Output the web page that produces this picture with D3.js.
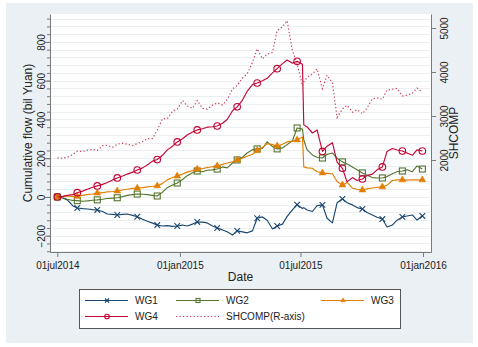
<!DOCTYPE html>
<html>
<head>
<meta charset="utf-8">
<script src="https://cdn.jsdelivr.net/npm/d3@7"></script>
<style>
  body { margin: 0; background: #fff; }
  svg { display: block; font-family: "Liberation Sans", Arial, Helvetica, sans-serif; }
</style>
</head>
<body>
<svg id="chart" width="478" height="347"></svg>
<script>
// Observation dates (roughly weekly), shared by all series
const dates = [
  "2014-07-01","2014-07-09","2014-07-16","2014-07-24","2014-07-31",
  "2014-08-08","2014-08-15","2014-08-23","2014-08-30",
  "2014-09-07","2014-09-14","2014-09-22","2014-09-29",
  "2014-10-07","2014-10-14","2014-10-22","2014-10-29",
  "2014-11-06","2014-11-13","2014-11-21","2014-11-28",
  "2014-12-06","2014-12-13","2014-12-21","2014-12-28",
  "2015-01-05","2015-01-12","2015-01-20","2015-01-27",
  "2015-02-04","2015-02-11","2015-02-19","2015-02-26",
  "2015-03-06","2015-03-13","2015-03-21","2015-03-28",
  "2015-04-05","2015-04-12","2015-04-20","2015-04-27",
  "2015-05-05","2015-05-12","2015-05-20","2015-05-27",
  "2015-06-04","2015-06-11","2015-06-19","2015-06-26",
  "2015-07-04","2015-07-06","2015-07-11","2015-07-19","2015-07-26",
  "2015-08-03","2015-08-10","2015-08-18","2015-08-25",
  "2015-09-02","2015-09-09","2015-09-17","2015-09-24",
  "2015-10-02","2015-10-09","2015-10-17","2015-10-24",
  "2015-11-01","2015-11-08","2015-11-16","2015-11-23",
  "2015-12-01","2015-12-08","2015-12-16","2015-12-23","2015-12-31"
];

// Cumulative flow (bil Yuan), left axis
const wg1 = [0,-5,-15,-45,-57, -60,-62,-65,-67, -75,-88,-90,-93, -90,-88,-95,-102,
  -115,-125,-135,-145, -150,-148,-152,-150, -145,-150,-140,-129, -130,-134,-150,-160,
  -170,-180,-196,-175, -180,-185,-175,-110, -103,-120,-165,-150, -140,-100,-67,-40,
  -60,-55,-67,-75,-45, -41,-110,-134,-30, -10,-30,-41,-55, -62,-80,-93,-105,
  -114,-155,-145,-120, -103,-98,-93,-119,-98];

const wg2 = [0,-5,-12,-18,-19, -22,-20,-17,-15, -12,-8,-6,-4, 2,8,12,15,
  14,12,8,5, 25,48,62,72, 90,110,125,134, 130,138,140,144,
  155,150,175,191, 205,227,243,248, 250,284,260,248, 253,270,290,356,
  350,294,243,217,205, 201,220,227,200, 181,170,155,140, 124,112,100,98,
  98,105,120,130, 134,140,130,160,144];

const wg3 = [0,2,5,3,3, 8,12,15,20, 22,26,28,31, 36,40,44,46,
  48,52,55,57, 70,88,100,108, 118,128,136,144, 146,152,156,160,
  168,175,182,191, 200,210,220,240, 255,275,270,263, 272,284,288,294,
  310,155,150,148,130, 124,122,120,80, 62,75,45,40, 36,42,46,50,
  52,60,85,88, 88,87,89,88,88];

const wg4 = [0,3,8,12,22, 30,40,50,57, 65,75,88,98, 108,118,128,139,
  150,165,185,193, 215,243,262,284, 300,320,335,346, 352,360,362,366,
  380,400,445,465, 500,545,580,588, 600,612,640,662, 688,707,690,700,
  685,372,361,330,346, 235,262,280,180, 148,78,100,85, 93,110,118,140,
  155,235,250,242, 237,227,215,243,237];

// Shanghai Composite index, right axis
const shcomp = [2050,2040,2060,2126,2201, 2194,2226,2240,2217, 2326,2331,2290,2357,
  2382,2359,2327,2373, 2419,2485,2487,2683, 2938,2938,3108,3157,
  3351,3229,3173,3352, 3174,3157,3247,3298, 3248,3372,3617,3691,
  3863,3957,4217,4527, 4298,4401,4446,4941, 5023,5166,4478,4192,
  3687,3775,3878,3957,4070, 3622,3928,3748,2965, 3160,3243,3086,3142,
  3053,3183,3391,3412, 3382,3590,3607,3630, 3456,3470,3516,3636,3539];

// Dates that carry a marker symbol
const markerDates = ["2014-07-01","2014-07-31","2014-08-30","2014-09-29","2014-10-29",
  "2014-11-28","2014-12-28","2015-01-27","2015-02-26","2015-03-28","2015-04-27",
  "2015-05-27","2015-06-26","2015-08-03","2015-09-02","2015-10-02","2015-11-01",
  "2015-12-01","2015-12-31"];

const xTickDates = ["2014-07-01","2015-01-01","2015-07-01","2016-01-01"];
const xTickLabels = ["01jul2014","01jan2015","01jul2015","01jan2016"];
const leftTicks = [-200, 0, 200, 400, 600, 800];
const rightTicks = [2000, 3000, 4000, 5000];
const seriesNames = ["WG1", "WG2", "WG3", "WG4", "SHCOMP(R-axis)"];

const parse = d3.utcParse("%Y-%m-%d");
const W = 478, H = 347;
const P = { l: 50, r: 431, t: 14, b: 252 };

const svg = d3.select("#chart");
svg.append("rect").attr("width", W).attr("height", H).attr("fill", "#fff");
svg.append("rect").attr("x", 6).attr("y", 3).attr("width", 467).attr("height", 340).attr("fill", "#eaf0f3");
svg.append("rect").attr("x", P.l).attr("y", P.t).attr("width", P.r - P.l).attr("height", P.b - P.t).attr("fill", "#fff");

const x = d3.scaleUtc().domain([parse("2014-06-20"), parse("2016-01-13")]).range([P.l, P.r]);
const yL = d3.scaleLinear().domain([-284, 944]).range([P.b, P.t]);
const yR = d3.scaleLinear().domain([-91, 5318]).range([P.b, P.t]);

// light horizontal grid at every minor step of the left axis
const minorLeft = d3.range(-280, 945, 40);
svg.append("g").selectAll("line").data(minorLeft).join("line")
  .attr("x1", P.l + 1).attr("x2", P.r - 1)
  .attr("y1", d => Math.round(yL(d)) + 0.5).attr("y2", d => Math.round(yL(d)) + 0.5)
  .attr("stroke", "#eceff2").attr("stroke-width", 1);

const axisColor = "#7a7a7a";
const labelColor = "#222";

// left axis
const gL = svg.append("g").attr("transform", `translate(${P.l},0)`)
  .call(d3.axisLeft(yL).tickValues(minorLeft).tickSize(3).tickSizeOuter(0).tickFormat(""));
gL.select(".domain").remove();
gL.selectAll("line").attr("stroke", axisColor);
const gL2 = svg.append("g").attr("transform", `translate(${P.l},0)`)
  .call(d3.axisLeft(yL).tickValues(leftTicks).tickSize(5).tickSizeOuter(0).tickFormat(d3.format("d")));
gL2.select(".domain").attr("stroke", axisColor);
gL2.selectAll("line").attr("stroke", axisColor);
gL2.selectAll("text")
  .attr("x", null).attr("y", null).attr("dy", null)
  .attr("transform", "translate(-5.5,0) rotate(-90)")
  .attr("text-anchor", "middle")
  .attr("font-size", 10).attr("font-family", null).attr("fill", labelColor);

// right axis
const gR = svg.append("g").attr("transform", `translate(${P.r},0)`)
  .call(d3.axisRight(yR).tickValues(rightTicks).tickSize(5).tickSizeOuter(0).tickFormat(d3.format("d")));
gR.select(".domain").attr("stroke", axisColor);
gR.selectAll("line").attr("stroke", axisColor);
gR.selectAll("text")
  .attr("x", null).attr("y", null).attr("dy", null)
  .attr("transform", "translate(16.5,0) rotate(-90)")
  .attr("text-anchor", "middle")
  .attr("font-size", 10).attr("font-family", null).attr("fill", labelColor);

// bottom axis
const gB = svg.append("g").attr("transform", `translate(0,${P.b})`)
  .call(d3.axisBottom(x).tickValues(xTickDates.map(parse)).tickSize(5).tickSizeOuter(0)
    .tickPadding(5).tickFormat((d, i) => xTickLabels[i]));
gB.select(".domain").attr("stroke", axisColor);
gB.selectAll("line").attr("stroke", axisColor);
gB.selectAll("text").attr("font-size", 10).attr("font-family", null).attr("fill", labelColor);

// axis titles
svg.append("text").attr("x", (P.l + P.r) / 2).attr("y", 281).attr("text-anchor", "middle")
  .attr("font-size", 12).attr("fill", labelColor).text("Date");
svg.append("text").attr("transform", `translate(32,${(P.t + P.b) / 2}) rotate(-90)`)
  .attr("text-anchor", "middle").attr("font-size", 12).attr("fill", labelColor)
  .text("Cumulative flow (bil Yuan)");
svg.append("text").attr("transform", `translate(458,${(P.t + P.b) / 2}) rotate(-90)`)
  .attr("text-anchor", "middle").attr("font-size", 12).attr("fill", labelColor)
  .text("SHCOMP");

// marker drawing
function marker(g, type, cx, cy, color, s) {
  if (type === "x") {
    g.append("path")
      .attr("d", `M${cx - s},${cy - s}L${cx + s},${cy + s}M${cx - s},${cy + s}L${cx + s},${cy - s}`)
      .attr("stroke", color).attr("stroke-width", 1.1).attr("fill", "none");
  } else if (type === "square") {
    g.append("rect").attr("x", cx - s).attr("y", cy - s).attr("width", 2 * s).attr("height", 2 * s)
      .attr("fill", "none").attr("stroke", color).attr("stroke-width", 1.1);
  } else if (type === "triangle") {
    g.append("path").attr("transform", `translate(${cx},${cy})`)
      .attr("d", d3.symbol(d3.symbolTriangle, s * s * 2.2)())
      .attr("fill", color).attr("stroke", color).attr("stroke-width", 0.6);
  } else if (type === "circle") {
    g.append("circle").attr("cx", cx).attr("cy", cy).attr("r", s)
      .attr("fill", "none").attr("stroke", color).attr("stroke-width", 1.1);
  }
}

const series = [
  { name: seriesNames[0], values: wg1, color: "#1a476f", mark: "x", size: 2.8 },
  { name: seriesNames[1], values: wg2, color: "#55752f", mark: "square", size: 3 },
  { name: seriesNames[2], values: wg3, color: "#e37e00", mark: "triangle", size: 3 },
  { name: seriesNames[3], values: wg4, color: "#c10534", mark: "circle", size: 3.3 }
];
const shColor = "#c8405e";
const shDash = "1.3 2.2";

svg.append("defs").append("clipPath").attr("id", "plotclip")
  .append("rect").attr("x", P.l).attr("y", P.t).attr("width", P.r - P.l).attr("height", P.b - P.t);
const plotG = svg.append("g").attr("clip-path", "url(#plotclip)");

const markerSet = new Set(markerDates);
series.forEach(s => {
  const pts = dates.map((d, i) => ({ d: parse(d), key: d, v: s.values[i] }));
  plotG.append("path").datum(pts)
    .attr("d", d3.line().x(p => x(p.d)).y(p => yL(p.v)))
    .attr("fill", "none").attr("stroke", s.color).attr("stroke-width", 1.15)
    .attr("stroke-linejoin", "round");
  const mg = plotG.append("g");
  pts.filter(p => markerSet.has(p.key)).forEach(p => marker(mg, s.mark, x(p.d), yL(p.v), s.color, s.size));
});

const shPts = dates.map((d, i) => ({ d: parse(d), v: shcomp[i] }));
plotG.append("path").datum(shPts)
  .attr("d", d3.line().x(p => x(p.d)).y(p => yR(p.v)))
  .attr("fill", "none").attr("stroke", shColor).attr("stroke-width", 1.2)
  .attr("stroke-dasharray", shDash);

// legend
const lg = svg.append("g");
lg.append("rect").attr("x", 79.5).attr("y", 289.5).attr("width", 321).attr("height", 39)
  .attr("fill", "#fff").attr("stroke", "#555").attr("stroke-width", 1);
const legendSlots = [
  { x0: 85, row: 0 }, { x0: 176, row: 0 }, { x0: 321, row: 0 },
  { x0: 85, row: 1 }, { x0: 176, row: 1 }
];
const rowY = [300.5, 316.5];
const legendItems = series.map(s => ({ name: s.name, color: s.color, mark: s.mark, dash: null }))
  .concat([{ name: seriesNames[4], color: shColor, mark: null, dash: shDash }]);
legendItems.forEach((it, i) => {
  const slot = legendSlots[i];
  const yy = rowY[slot.row];
  lg.append("line").attr("x1", slot.x0).attr("x2", slot.x0 + 43).attr("y1", yy).attr("y2", yy)
    .attr("stroke", it.color).attr("stroke-width", 1.15)
    .attr("stroke-dasharray", it.dash);
  if (it.mark) marker(lg, it.mark, slot.x0 + 22, yy, it.color, it.mark === "circle" ? 2.3 : 2);
  lg.append("text").attr("x", slot.x0 + 50).attr("y", yy + 3.6)
    .attr("font-size", 10).attr("fill", labelColor).text(it.name);
});
</script>
</body>
</html>
